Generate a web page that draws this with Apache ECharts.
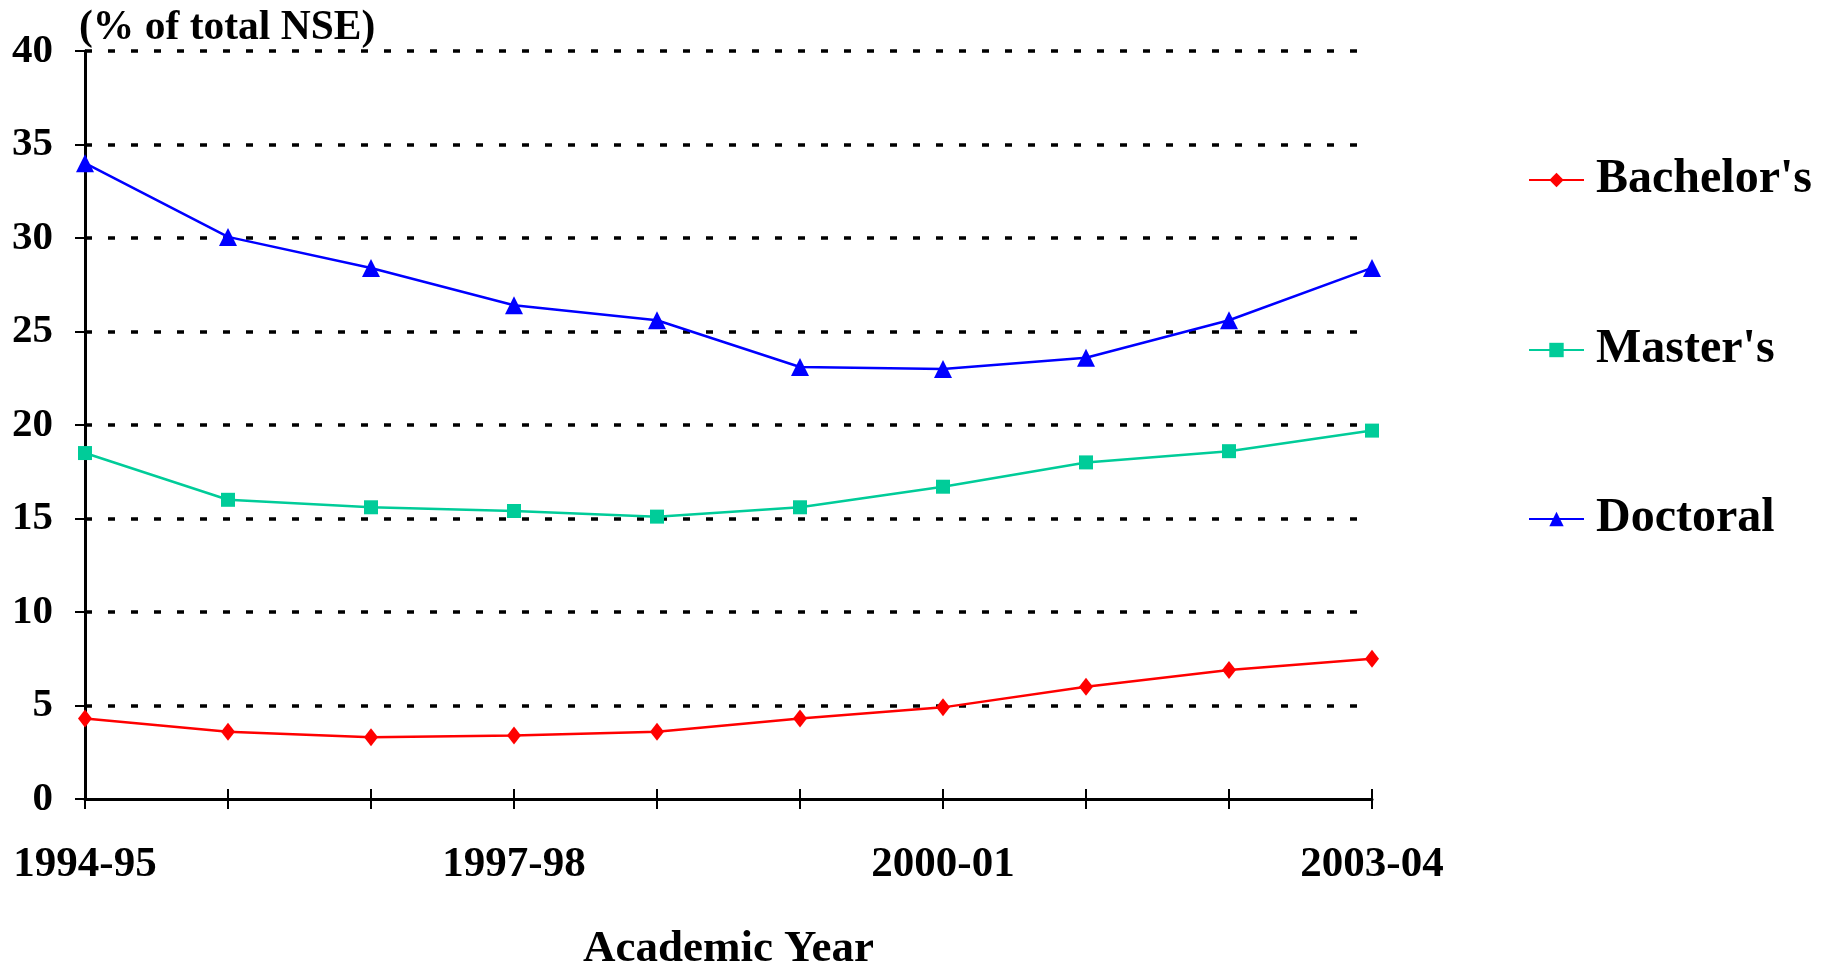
<!DOCTYPE html>
<html><head><meta charset="utf-8">
<script src="https://cdn.jsdelivr.net/npm/echarts@6/dist/echarts.min.js"></script>
<style>html,body{margin:0;padding:0;background:#fff}#c{width:1831px;height:966px}</style>
</head><body><div id="c"></div>
<script>
var years = ['1994-95','1995-96','1996-97','1997-98','1998-99','1999-00','2000-01','2001-02','2002-03','2003-04'];
var bachelors = [4.3, 3.6, 3.3, 3.4, 3.6, 4.3, 4.9, 6.0, 6.9, 7.5];
var masters = [18.5, 16.0, 15.6, 15.4, 15.1, 15.6, 16.7, 18.0, 18.6, 19.7];
var doctoral = [34.0, 30.06, 28.4, 26.4, 25.6, 23.1, 23.0, 23.6, 25.6, 28.4];
var yTicks = [0, 5, 10, 15, 20, 25, 30, 35, 40];

var FONT = '"Liberation Serif", "Times New Roman", serif';
var chart = echarts.init(document.getElementById('c'));
function legendFor(name, top) {
  return {
    data: [name], orient: 'vertical', left: 1523, top: top,
    itemWidth: 55, itemHeight: 18, itemGap: 0,
    textStyle: {fontFamily: FONT, fontWeight: 'bold', fontSize: 48, color: '#000', lineHeight: 50, padding: [0, 0, 0, 7]},
    selectedMode: false
  };
}
chart.setOption({
  animation: false,
  backgroundColor: '#fff',
  title: {
    text: '(% of total NSE)', left: 74, top: 2,
    textStyle: {fontFamily: FONT, fontWeight: 'bold', fontSize: 41.5, color: '#000'}
  },
  legend: [legendFor("Bachelor's", 150), legendFor("Master's", 320), legendFor('Doctoral', 489)],
  grid: {left: 85, right: 459, top: 51, bottom: 167, containLabel: false, outerBoundsMode: 'none'},
  xAxis: [{
    type: 'category', data: years, boundaryGap: false,
    axisLine: {lineStyle: {color: '#000', width: 3}},
    axisTick: {show: true, length: 10, inside: false, interval: 0, lineStyle: {color: '#000', width: 2}},
    axisLabel: {interval: 2, margin: 44, fontFamily: FONT, fontWeight: 'bold', fontSize: 43, color: '#000'},
    splitLine: {show: false},
    name: 'Academic Year', nameLocation: 'middle', nameGap: 128,
    nameTextStyle: {fontFamily: FONT, fontWeight: 'bold', fontSize: 45, color: '#000'},
    z: 5
  }, {
    type: 'category', data: years, boundaryGap: false, position: 'bottom',
    axisLine: {show: false},
    axisTick: {show: true, length: 10, inside: true, interval: 0, lineStyle: {color: '#000', width: 2}},
    axisLabel: {show: false}, splitLine: {show: false}
  }],
  yAxis: {
    type: 'value', min: yTicks[0], max: yTicks[yTicks.length - 1], interval: 5,
    axisLine: {show: true, lineStyle: {color: '#000', width: 3}},
    axisTick: {show: true, length: 10, lineStyle: {color: '#000', width: 2}},
    axisLabel: {margin: 32, fontFamily: FONT, fontWeight: 'bold', fontSize: 41, color: '#000'},
    splitLine: {show: true, showMinLine: false, lineStyle: {color: '#000', width: 3.5, type: [7, 16]}}
  },
  series: [
    {name: "Bachelor's", type: 'line', data: bachelors, symbol: 'diamond', symbolSize: [14, 18],
     itemStyle: {color: '#ff0000'}, lineStyle: {color: '#ff0000', width: 2.5}},
    {name: "Master's", type: 'line', data: masters, symbol: 'rect', symbolSize: 14,
     itemStyle: {color: '#00cc99'}, lineStyle: {color: '#00cc99', width: 2.5}},
    {name: 'Doctoral', type: 'line', data: doctoral, symbol: 'triangle', symbolSize: 18,
     itemStyle: {color: '#0000ff'}, lineStyle: {color: '#0000ff', width: 2.5}}
  ]
});
</script></body></html>
